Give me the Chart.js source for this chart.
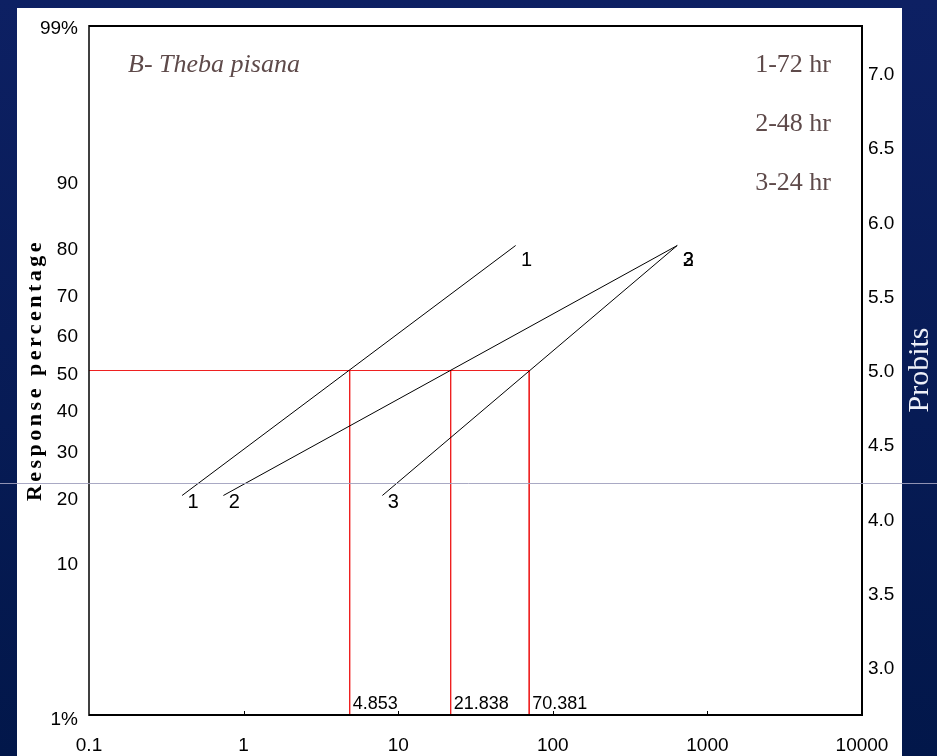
<!DOCTYPE html>
<html>
<head>
<title>Theba pisana probit</title>
<meta charset="UTF-8">
<script src="https://cdn.jsdelivr.net/npm/chart.js@4.4.0/dist/chart.umd.min.js"></script>
<style>
  html, body { margin: 0; padding: 0; background: #0c1f62; }
  canvas { display: block; }
</style>
</head>
<body>
<canvas id="myChart" width="937" height="756"></canvas>
<script>
// values
var lineNames = ['1', '2', '3'];
var hourLabels = ['1-72 hr', '2-48 hr', '3-24 hr'];
var startDose = [0.40, 0.74, 7.9];
var endDose = [57.5, 638, 638];
var startPct = [20, 20, 20];
var endPct = [80, 80, 80];
var lc50 = [4.853, 21.838, 70.381];
var lc50Labels = ['4.853', '21.838', '70.381'];

var xTicks = [0.1, 1, 10, 100, 1000, 10000];
var xTickLabels = ['0.1', '1', '10', '100', '1000', '10000'];
var leftTickPct = [1, 10, 20, 30, 40, 50, 60, 70, 80, 90, 99];
var leftTickLabels = ['1%', '10', '20', '30', '40', '50', '60', '70', '80', '90', '99%'];
var rightTicks = [3.0, 3.5, 4.0, 4.5, 5.0, 5.5, 6.0, 6.5, 7.0];

// inverse normal (Acklam) -> probit units
function invNorm(p) {
    var a = [-39.69683028665376, 220.9460984245205, -275.9285104469687, 138.3577518672690, -30.66479806614716, 2.506628277459239];
    var b = [-54.47609879822406, 161.5858368580409, -155.6989798598866, 66.80131188771972, -13.28068155288572];
    var c = [-0.007784894002430293, -0.3223964580411365, -2.400758277161838, -2.549732539343734, 4.374664141464968, 2.938163982698783];
    var d = [0.007784695709041462, 0.3224671290700398, 2.445134137142996, 3.754408661907416];
    var pl = 0.02425, q, r;
    if (p < pl) {
        q = Math.sqrt(-2 * Math.log(p));
        return (((((c[0]*q+c[1])*q+c[2])*q+c[3])*q+c[4])*q+c[5]) / ((((d[0]*q+d[1])*q+d[2])*q+d[3])*q+1);
    }
    if (p > 1 - pl) {
        q = Math.sqrt(-2 * Math.log(1 - p));
        return -(((((c[0]*q+c[1])*q+c[2])*q+c[3])*q+c[4])*q+c[5]) / ((((d[0]*q+d[1])*q+d[2])*q+d[3])*q+1);
    }
    q = p - 0.5; r = q * q;
    return (((((a[0]*r+a[1])*r+a[2])*r+a[3])*r+a[4])*r+a[5])*q / (((((b[0]*r+b[1])*r+b[2])*r+b[3])*r+b[4])*r+1);
}
function probit(pct) { return 5 + invNorm(pct / 100); }

var yMin = probit(1);
var yMax = probit(99);

var datasets = [];
for (var i = 0; i < lineNames.length; i++) {
    datasets.push({
        label: hourLabels[i],
        data: [{x: startDose[i], y: probit(startPct[i])}, {x: endDose[i], y: probit(endPct[i])}],
        borderColor: '#000',
        borderWidth: 1,
        pointRadius: 0,
        showLine: true
    });
}
var red = 'rgb(238,32,32)';
datasets.push({
    label: 'LC50',
    data: [{x: 0.1, y: 5}, {x: lc50[lc50.length - 1], y: 5}],
    borderColor: red, borderWidth: 1, pointRadius: 0, showLine: true
});
for (var j = 0; j < lc50.length; j++) {
    datasets.push({
        label: 'LC50 ' + lc50Labels[j],
        data: [{x: lc50[j], y: 5}, {x: lc50[j], y: yMin}],
        borderColor: red, borderWidth: 1, pointRadius: 0, showLine: true
    });
}

var serif = '"Liberation Serif", "Times New Roman", serif';
var sans = '"Liberation Sans", Arial, sans-serif';

var decor = {
    id: 'decor',
    beforeDraw: function(chart) {
        var ctx = chart.ctx;
        ctx.save();
        var g = ctx.createLinearGradient(0, 0, 0, 756);
        g.addColorStop(0, '#0d2063');
        g.addColorStop(1, '#02174a');
        ctx.fillStyle = g;
        ctx.fillRect(0, 0, 937, 756);
        ctx.fillStyle = '#fff';
        ctx.fillRect(17, 8, 885, 748);
        ctx.restore();
    },
    afterDraw: function(chart) {
        var ctx = chart.ctx;
        var a = chart.chartArea;
        var xs = chart.scales.x, ys = chart.scales.y;
        ctx.save();

        // plot frame
        ctx.strokeStyle = '#000';
        ctx.lineWidth = 2;
        ctx.beginPath();
        ctx.moveTo(a.left, a.top + 1); ctx.lineTo(a.right, a.top + 1);
        ctx.lineTo(a.right, a.bottom - 1); ctx.lineTo(a.left, a.bottom - 1);
        ctx.stroke();
        ctx.lineWidth = 1.5;
        ctx.beginPath();
        ctx.moveTo(a.left, a.top); ctx.lineTo(a.left, a.bottom);
        ctx.stroke();

        // small inward decade ticks
        ctx.lineWidth = 1;
        for (var k = 1; k < xTicks.length - 1; k++) {
            var px = Math.round(xs.getPixelForValue(xTicks[k])) + 0.5;
            ctx.beginPath();
            ctx.moveTo(px, a.bottom - 2); ctx.lineTo(px, a.bottom - 5);
            ctx.stroke();
        }

        // line numbers at both ends
        ctx.fillStyle = '#000';
        ctx.font = '20px ' + sans;
        ctx.textAlign = 'center';
        ctx.textBaseline = 'middle';
        for (var i = 0; i < lineNames.length; i++) {
            var sx = xs.getPixelForValue(startDose[i]), sy = ys.getPixelForValue(probit(startPct[i]));
            var ex = xs.getPixelForValue(endDose[i]), ey = ys.getPixelForValue(probit(endPct[i]));
            ctx.fillText(lineNames[i], sx + 11, sy + 7);
            ctx.fillText(lineNames[i], ex + 11, ey + 15);
        }

        // LC50 values
        ctx.font = '18px ' + sans;
        ctx.textAlign = 'left';
        ctx.textBaseline = 'alphabetic';
        for (var j = 0; j < lc50.length; j++) {
            ctx.fillText(lc50Labels[j], xs.getPixelForValue(lc50[j]) + 3, a.bottom - 7);
        }

        // title and hour legend
        ctx.fillStyle = '#5e4a4a';
        ctx.font = 'italic 26px ' + serif;
        ctx.fillText('B- Theba pisana', 128, 72);
        ctx.font = '26px ' + serif;
        ctx.textAlign = 'right';
        for (var h = 0; h < hourLabels.length; h++) {
            ctx.fillText(hourLabels[h], 831, 72 + h * 59);
        }

        // axis titles
        ctx.textAlign = 'center';
        ctx.textBaseline = 'middle';
        ctx.save();
        ctx.translate(35, 370);
        ctx.rotate(-Math.PI / 2);
        ctx.fillStyle = '#000';
        ctx.font = 'bold 22px ' + serif;
        ctx.letterSpacing = '3.5px';
        ctx.fillText('Response percentage', 0, 0);
        ctx.restore();

        ctx.save();
        ctx.translate(920, 370);
        ctx.rotate(-Math.PI / 2);
        ctx.fillStyle = '#eef0f8';
        ctx.font = '30px ' + serif;
        ctx.fillText('Probits', 0, 0);
        ctx.restore();

        // thin slide guide line
        ctx.strokeStyle = 'rgba(160,160,190,0.9)';
        ctx.lineWidth = 1;
        ctx.beginPath();
        ctx.moveTo(0, 483.5); ctx.lineTo(937, 483.5);
        ctx.stroke();

        ctx.restore();
    }
};

Chart.defaults.font.family = sans;
Chart.defaults.color = '#000';

var ctx = document.getElementById('myChart').getContext('2d');
var chart = new Chart(ctx, {
    type: 'scatter',
    data: { datasets: datasets },
    options: {
        responsive: false,
        animation: false,
        layout: { padding: { top: 25 } },
        plugins: { legend: { display: false }, tooltip: { enabled: false } },
        scales: {
            x: {
                type: 'logarithmic',
                position: 'bottom',
                min: 0.1,
                max: 10000,
                grid: { display: false, drawTicks: false },
                border: { display: false },
                afterBuildTicks: function(s) { s.ticks = xTicks.map(function(v) { return {value: v}; }); },
                afterFit: function(s) { s.height = 40; },
                ticks: {
                    font: { size: 19 },
                    padding: 18,
                    maxRotation: 0,
                    autoSkip: false,
                    callback: function(v, idx) { return xTickLabels[idx]; }
                }
            },
            y: {
                type: 'linear',
                position: 'left',
                min: yMin,
                max: yMax,
                grid: { display: false, drawTicks: false },
                border: { display: false },
                afterBuildTicks: function(s) { s.ticks = leftTickPct.map(function(p) { return {value: probit(p)}; }); },
                afterFit: function(s) { s.width = 89; },
                ticks: {
                    font: { size: 19 },
                    padding: 11,
                    labelOffset: 4,
                    autoSkip: false,
                    callback: function(v, idx) { return leftTickLabels[idx]; }
                }
            },
            y2: {
                type: 'linear',
                position: 'right',
                min: yMin,
                max: yMax,
                grid: { display: false, drawTicks: false },
                border: { display: false },
                afterBuildTicks: function(s) { s.ticks = rightTicks.map(function(v) { return {value: v}; }); },
                afterFit: function(s) { s.width = 75; },
                ticks: {
                    font: { size: 19 },
                    padding: 6,
                    labelOffset: 1.5,
                    autoSkip: false,
                    callback: function(v, idx) { return rightTicks[idx].toFixed(1); }
                }
            }
        }
    },
    plugins: [decor]
});
</script>
</body>
</html>
